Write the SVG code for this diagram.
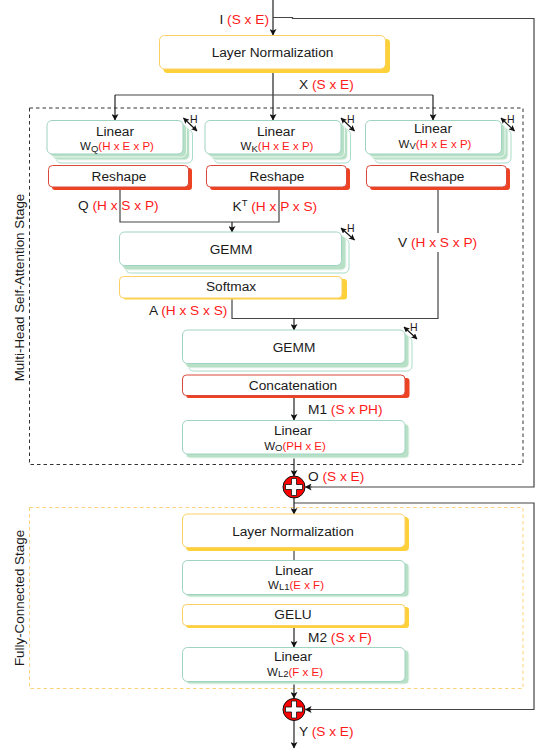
<svg xmlns="http://www.w3.org/2000/svg" width="536" height="751" viewBox="0 0 536 751">
<style>
text{font-family:"Liberation Sans",Arial,sans-serif;fill:#1a1a1a;font-size:13.7px}
.m{text-anchor:middle}
.r{fill:#ff1a1a}
.st{font-size:13.4px}
.s{font-size:11.5px}
.ss{font-size:9.5px}
.h{font-size:10.5px}
.g{fill:#fff;stroke:#9fd3c1;stroke-width:1}
.gb{fill:#b7e0c6;stroke:#eef8f3;stroke-width:1}
.gt{fill:#fff;stroke:#a9dcc8;stroke-width:1}
.y{fill:#fff;stroke:#fdd065;stroke-width:1}
.yb{fill:#fdd13a;stroke:none}
.d{fill:#fff;stroke:#d9483b;stroke-width:1}
.db{fill:#ee4323;stroke:none}
.c{fill:none;stroke:#444;stroke-width:1.2}
.a{fill:none;stroke:#222;stroke-width:1.2;marker-end:url(#ah)}
.dh{fill:none;stroke:#111;stroke-width:1.1;marker-start:url(#ahs);marker-end:url(#ah2)}
.add{fill:#f00;stroke:#111;stroke-width:1}
.pl{fill:#fff;stroke:#111;stroke-width:.8}
</style>
<defs>
<marker id="ah" markerWidth="7" markerHeight="7" refX="6" refY="3.5" orient="auto" markerUnits="userSpaceOnUse"><path d="M0 0L6.500 3.500L0 7L1.500 3.500Z" fill="#111"/></marker>
<marker id="ah2" markerWidth="6" markerHeight="6" refX="5.500" refY="3" orient="auto" markerUnits="userSpaceOnUse"><path d="M0 0L6 3L0 6L1.200 3Z" fill="#111"/></marker>
<marker id="ahs" markerWidth="6" markerHeight="6" refX="0.500" refY="3" orient="auto" markerUnits="userSpaceOnUse"><path d="M6 0L0 3L6 6L4.800 3Z" fill="#111"/></marker>
</defs>
<g id="stage-boxes">
<rect x="29.500" y="108" width="493.500" height="356.500" fill="none" stroke="#333" stroke-width="1" stroke-dasharray="3.500 3"/>
<rect x="29.500" y="507.500" width="493.500" height="181" fill="none" stroke="#fdd27a" stroke-width="1" stroke-dasharray="3.500 3"/>
<text class="m st" transform="translate(24,287.500) rotate(-90)">Multi-Head Self-Attention Stage</text>
<text class="m st" transform="translate(24,598) rotate(-90)">Fully-Connected Stage</text>
</g>
<g id="connectors">
<path class="a" d="M273 0V35"/>
<path class="c" d="M273 17.500H292.500V18.500H534V487H312"/>
<path class="a" d="M312 487H305.500"/>
<path class="c" d="M294 503H534V709.500H312"/>
<path class="a" d="M312 709.500H305.500"/>
<path class="a" d="M273 69V120"/>
<path class="c" d="M115 95H433"/>
<path class="a" d="M115 95V120"/>
<path class="a" d="M433 95V120"/>
<path class="c" d="M120 187V222H279V187"/>
<path class="a" d="M232 222V232"/>
<path class="c" d="M438 190V233M438 252V318.500H232V299"/>
<path class="a" d="M294 318.500V330"/>
<path class="a" d="M294 395V420"/>
<path class="a" d="M294 454V476"/>
<path class="a" d="M294 498V514"/>
<path class="c" d="M294 547V560"/>
<path class="a" d="M294 625V647"/>
<path class="a" d="M294 681V698"/>
<path class="a" d="M294 720V748"/>
</g>
<g id="layer-norm-1"><rect class="yb" x="163.500" y="39" width="226.500" height="34" rx="4"/><rect class="y" x="159.500" y="35.500" width="226" height="33.500" rx="5"/><text class="m" x="272.500" y="57">Layer Normalization</text></g>
<g id="linear-q"><rect class="gt" x="56" y="129.500" width="136.500" height="33.500" rx="5"/><rect class="gb" x="53" y="126.500" width="136.500" height="33.500" rx="5"/><rect class="gb" x="50" y="123.500" width="136.500" height="33.500" rx="5"/><rect class="g" x="47" y="120.500" width="136" height="33.500" rx="5"/><text class="m" x="115" y="136">Linear</text><text class="m s" x="117" y="150">W<tspan class="ss" dy="2">Q</tspan><tspan class="r" dy="-2">(H x E x P)</tspan></text></g>
<g id="linear-k"><rect class="gt" x="214" y="129.500" width="136.500" height="33.500" rx="5"/><rect class="gb" x="211" y="126.500" width="136.500" height="33.500" rx="5"/><rect class="gb" x="208" y="123.500" width="136.500" height="33.500" rx="5"/><rect class="g" x="205" y="120.500" width="136" height="33.500" rx="5"/><text class="m" x="276" y="136">Linear</text><text class="m s" x="277" y="150">W<tspan class="ss" dy="2">K</tspan><tspan class="r" dy="-2">(H x E x P)</tspan></text></g>
<g id="linear-v"><rect class="gt" x="374.500" y="129.500" width="136.500" height="33.500" rx="5"/><rect class="gb" x="371.500" y="126.500" width="136.500" height="33.500" rx="5"/><rect class="gb" x="368.500" y="123.500" width="136.500" height="33.500" rx="5"/><rect class="g" x="365.500" y="120.500" width="136" height="33.500" rx="5"/><text class="m" x="433" y="133">Linear</text><text class="m s" x="435" y="148">W<tspan class="ss" dy="1">V</tspan><tspan class="r" dy="-1">(H x E x P)</tspan></text></g>
<g id="h-arrows">
<path class="dh" d="M183.500 118L197 131"/><text class="h" x="190" y="123">H</text>
<path class="dh" d="M341 118L354.500 131"/><text class="h" x="347" y="123">H</text>
<path class="dh" d="M341 228L354.500 240"/><text class="h" x="347" y="232">H</text>
<path class="dh" d="M501 118L514.500 131"/><text class="h" x="507" y="123">H</text>
<path class="dh" d="M404 327L417 339"/><text class="h" x="410" y="331">H</text>
</g>
<g id="reshape-q"><rect class="db" x="52" y="168" width="140" height="22" rx="3"/><rect class="d" x="48.500" y="165.500" width="140" height="21.500" rx="4"/><text class="m" x="119" y="181">Reshape</text></g>
<g id="reshape-k"><rect class="db" x="210" y="168" width="140" height="22" rx="3"/><rect class="d" x="206.500" y="165.500" width="140" height="21.500" rx="4"/><text class="m" x="277" y="181">Reshape</text></g>
<g id="reshape-v"><rect class="db" x="370" y="168" width="140" height="22" rx="3"/><rect class="d" x="366.500" y="165.500" width="140" height="21.500" rx="4"/><text class="m" x="437" y="181">Reshape</text></g>
<g id="gemm-1"><rect class="gt" x="125.500" y="238.500" width="223.500" height="34.500" rx="5"/><rect class="gb" x="122.500" y="235.500" width="223.500" height="34.500" rx="5"/><rect class="g" x="119.500" y="232" width="222" height="33.500" rx="5"/><text class="m" x="231" y="253.500">GEMM</text></g>
<g id="softmax"><rect class="yb" x="123" y="279" width="224" height="20.500" rx="3"/><rect class="y" x="119.500" y="276.500" width="222.500" height="21.500" rx="4"/><text class="m" x="231" y="291">Softmax</text></g>
<g id="gemm-2"><rect class="gt" x="188.500" y="336.500" width="223.500" height="34.500" rx="5"/><rect class="gb" x="185.500" y="333.500" width="223.500" height="34.500" rx="5"/><rect class="g" x="182.500" y="330" width="222.500" height="33.500" rx="5"/><text class="m" x="294" y="351.500">GEMM</text></g>
<g id="concatenation"><rect class="db" x="186" y="378" width="223.500" height="20" rx="3"/><rect class="d" x="182.500" y="375" width="222.500" height="20.500" rx="4"/><text class="m" x="293" y="390">Concatenation</text></g>
<g id="linear-o"><rect class="gb" x="186" y="424" width="223" height="34" rx="4"/><rect class="g" x="182.500" y="420.500" width="222.500" height="33.500" rx="5"/><text class="m" x="293" y="435">Linear</text><text class="m s" x="295" y="450">W<tspan class="ss" dy="1">O</tspan><tspan class="r" dy="-1">(PH x E)</tspan></text></g>
<g id="adder-1"><circle class="add" cx="294" cy="487" r="11"/><path class="pl" d="M291.500 478.500h5v6h6v5h-6v6h-5v-6h-6v-5h6z"/></g>
<g id="layer-norm-2"><rect class="yb" x="186" y="517" width="223" height="34" rx="4"/><rect class="y" x="182.500" y="514" width="222.500" height="33.500" rx="5"/><text class="m" x="293" y="536">Layer Normalization</text></g>
<g id="linear-l1"><rect class="gb" x="186" y="563" width="223" height="34" rx="4"/><rect class="g" x="182.500" y="560.500" width="222.500" height="34" rx="5"/><text class="m" x="294" y="575">Linear</text><text class="m s" x="296" y="589">W<tspan class="ss" dy="1">L1</tspan><tspan class="r" dy="-1">(E x F)</tspan></text></g>
<g id="gelu"><rect class="yb" x="186" y="607" width="223" height="21" rx="3"/><rect class="y" x="182.500" y="604.500" width="222.500" height="21" rx="4"/><text class="m" x="293" y="619">GELU</text></g>
<g id="linear-l2"><rect class="gb" x="186" y="650" width="223" height="34" rx="4"/><rect class="g" x="182.500" y="647.500" width="222.500" height="34" rx="5"/><text class="m" x="293" y="661">Linear</text><text class="m s" x="295" y="676">W<tspan class="ss" dy="1">L2</tspan><tspan class="r" dy="-1">(F x E)</tspan></text></g>
<g id="adder-2"><circle class="add" cx="294" cy="709.500" r="11"/><path class="pl" d="M291.500 701h5v6h6v5h-6v6h-5v-6h-6v-5h6z"/></g>
<g id="labels">
<text x="219.500" y="24">I <tspan class="r">(S x E)</tspan></text>
<text x="299" y="89">X <tspan class="r">(S x E)</tspan></text>
<text x="78" y="210">Q <tspan class="r">(H x S x P)</tspan></text>
<text x="232.500" y="211">K<tspan font-size="9.500" dy="-5">T</tspan><tspan class="r" dy="5"> (H x P x S)</tspan></text>
<text x="398" y="247">V <tspan class="r">(H x S x P)</tspan></text>
<text x="149" y="315">A <tspan class="r">(H x S x S)</tspan></text>
<text x="308" y="414">M1 <tspan class="r">(S x PH)</tspan></text>
<text x="308" y="481">O <tspan class="r">(S x E)</tspan></text>
<text x="308" y="642">M2 <tspan class="r">(S x F)</tspan></text>
<text x="299" y="736">Y <tspan class="r">(S x E)</tspan></text>
</g>
</svg>
